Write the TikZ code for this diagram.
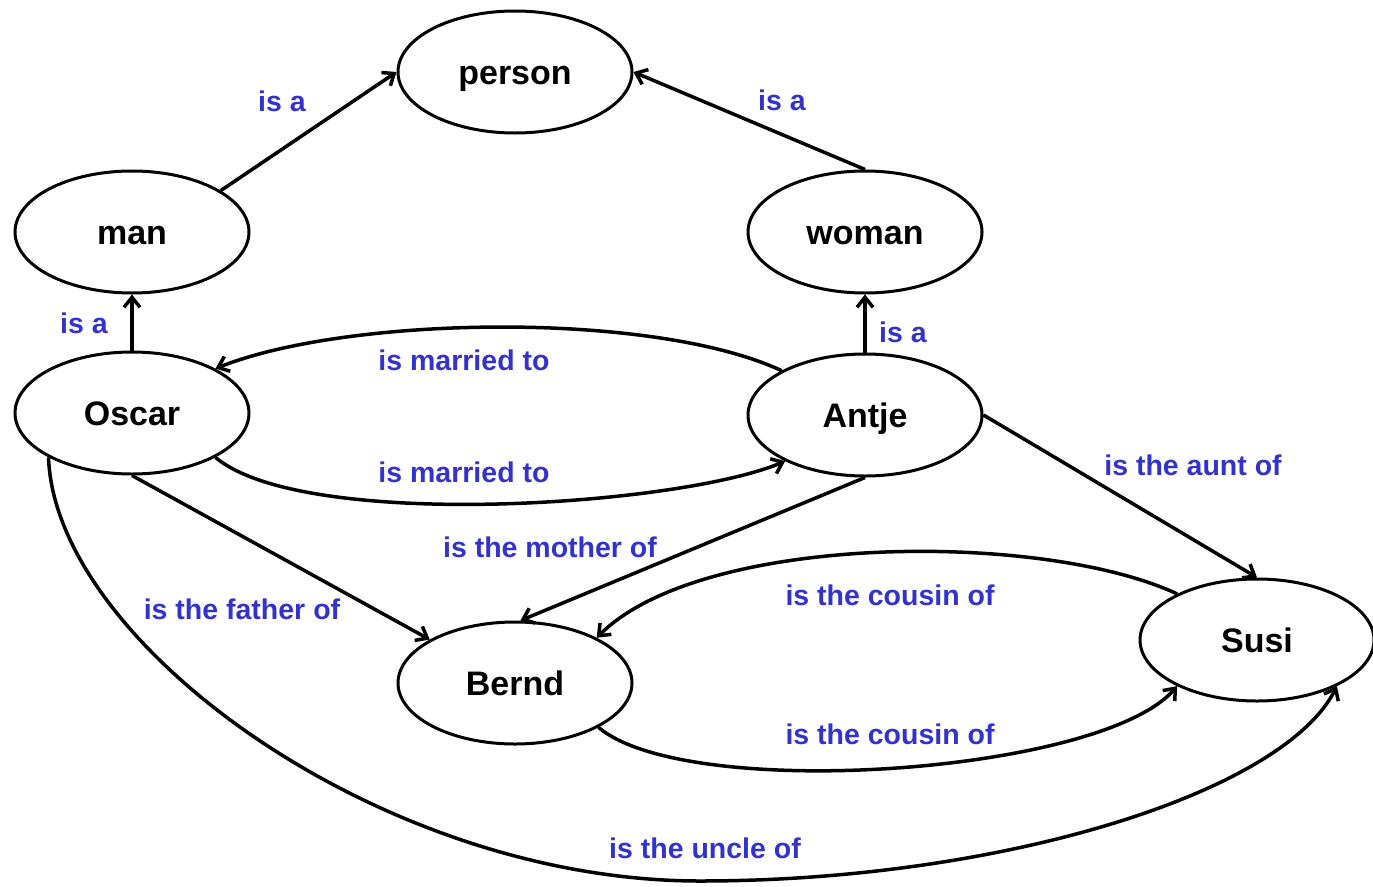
\documentclass[tikz,border=0pt]{standalone}
\usepackage{fontspec}
\setmainfont{Liberation Sans}
\usetikzlibrary{shapes.geometric,arrows.meta}
\definecolor{lblblue}{RGB}{51,51,204}
\begin{document}
\begin{tikzpicture}[x=1pt,y=-1pt,
  concept/.style={ellipse,draw,line width=3pt,minimum width=234pt,minimum height=122pt,
    inner sep=0pt,font=\fontsize{34}{40}\selectfont\bfseries,text height=24pt,text depth=0pt},
  rel/.style={font=\fontsize{28.5}{34}\selectfont\bfseries,text=lblblue,inner sep=0pt},
  link/.style={line width=3.5pt,-{Straight Barb[length=10pt,width=16pt]}}]
\useasboundingbox (0,0) rectangle (1373,886);
% concepts
\node[concept] (person) at (515,72) {person};
\node[concept] (man) at (132,232) {man};
\node[concept] (woman) at (865,232) {woman};
\node[concept] (Oscar) at (132,413) {Oscar};
\node[concept] (Antje) at (865,415) {Antje};
\node[concept] (Bernd) at (515,683) {Bernd};
\node[concept] (Susi) at (1257,640) {Susi};
\coordinate (ub) at (700,881);
% straight relations
\draw[link] (man.25) -- (person.west);
\draw[link] (woman.north) -- (person.east);
\draw[link] (Oscar.north) -- (man.south);
\draw[link] (Antje.north) -- (woman.south);
\draw[link] (Oscar.south) -- (Bernd.153);
\draw[link] (Antje.south) -- (Bernd.85);
\draw[link] (Antje.east) -- (Susi.north);
% curved relations
\draw[link] (Antje.152) .. controls +(-129,-60) and +(132,-53) .. (Oscar.28);
\draw[link] (Oscar.-28) .. controls +(88,74) and +(-106,45) .. (Antje.210);
\draw[link] (Susi.150) .. controls +(-135,-63) and +(105,-105) .. (Bernd.29);
\draw[link] (Bernd.-28) .. controls +(89,75) and +(-76,88) .. (Susi.210);
\draw[link] (Oscar.208) .. controls +(6,185) and +(-320,0) .. (ub)
   .. controls +(300,0) and +(-54,107) .. (Susi.-30);
% labels
\node[rel] (l1) at (282,101) {is a};
\node[rel] (l2) at (782,100) {is a};
\node[rel] (l3) at (84,323) {is a};
\node[rel] (l4) at (903,332) {is a};
\node[rel] (l5) at (464,360) {is married to};
\node[rel] (l6) at (464,472) {is married to};
\node[rel] (l7) at (1193,465) {is the aunt of};
\node[rel] (l8) at (550,547) {is the mother of};
\node[rel] (l9) at (242,609) {is the father of};
\node[rel] (l10) at (890,595) {is the cousin of};
\node[rel] (l11) at (890,734) {is the cousin of};
\node[rel] (l12) at (705,848) {is the uncle of};
\end{tikzpicture}
\end{document}
